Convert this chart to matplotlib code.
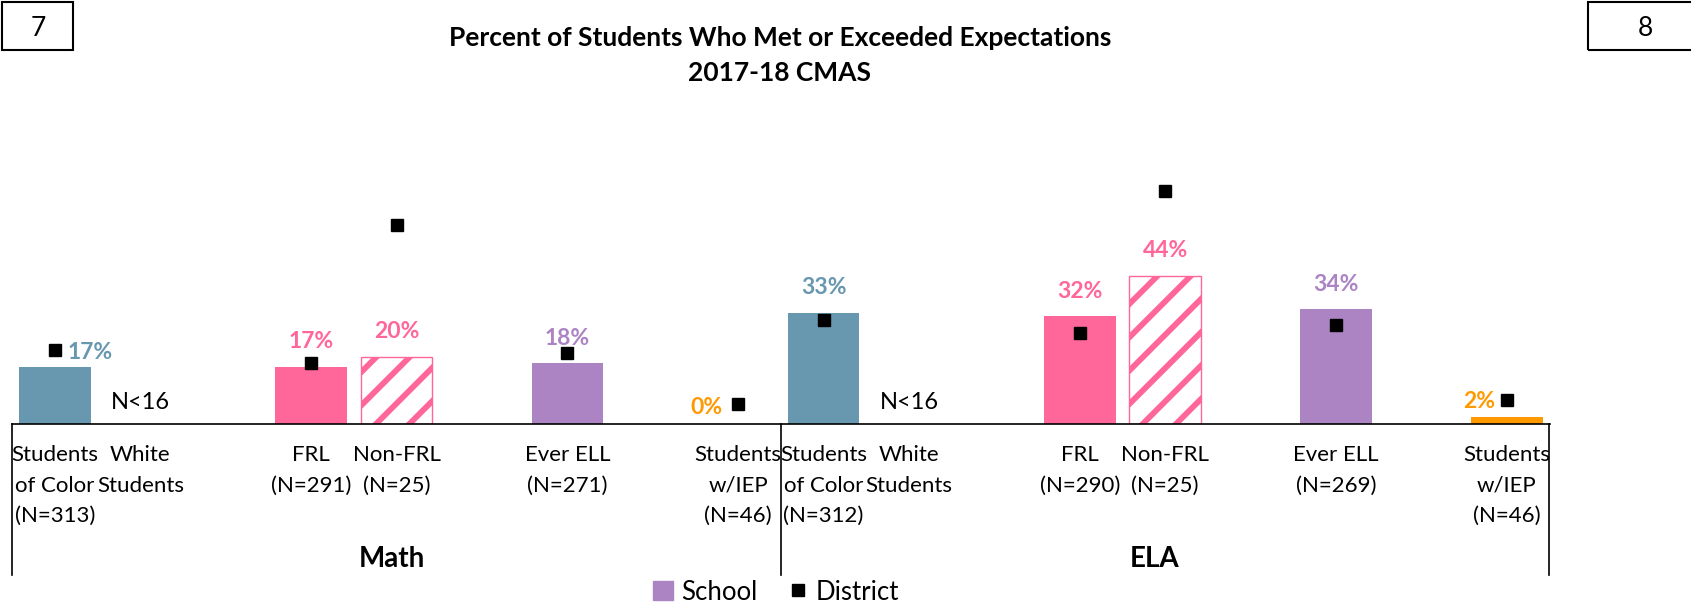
import numpy as np
import matplotlib
matplotlib.use("Agg")
import matplotlib.pyplot as plt
from matplotlib.patches import Patch, Rectangle
from matplotlib.lines import Line2D

plt.rcParams['font.family'] = ['Lato', 'DejaVu Sans']

# data
cat_math = ["Students\nof Color\n(N=313)", "White\nStudents", "", "FRL\n(N=291)", "Non-FRL\n(N=25)",
            "", "Ever ELL\n(N=271)", "", "Students\nw/IEP\n(N=46)"]
cat_ela = ["Students\nof Color\n(N=312)", "White\nStudents", "", "FRL\n(N=290)", "Non-FRL\n(N=25)",
           "", "Ever ELL\n(N=269)", "", "Students\nw/IEP\n(N=46)"]
school_math = [17, np.nan, np.nan, 17, 20, np.nan, 18, np.nan, 0]
school_ela = [33, np.nan, np.nan, 32, 44, np.nan, 34, np.nan, 2]
district_math = [22, np.nan, np.nan, 18, 59, np.nan, 21, np.nan, 6]
district_ela = [31, np.nan, np.nan, 27, 69, np.nan, 29.5, np.nan, 7]
suppressed = [1]  # White Students, N<16
groups = ["Math", "ELA"]

# styles
blue = "#6897B0"
pink = "#FF6699"
purple = "#AC84C4"
orange = "#FF9900"
slot_colors = [blue, blue, None, pink, pink, None, purple, None, orange]
slot_hatch = [None, None, None, None, "/", None, None, None, None]
plt.rcParams['hatch.linewidth'] = 4.2

# label offsets (points) for labels moved off the bar centre
label_offsets = {0: (25, 10), 8: (-23, 12)}
label_offsets_ela = {8: (-20, 11)}

W, H = 1691, 605
fig = plt.figure(figsize=(W / 100, H / 100), dpi=100)
ax = fig.add_axes([12.3 / W, 181 / H, (1549.5 - 12.3) / W, 337 / H])

x_math = np.arange(len(cat_math), dtype=float)
x_ela = len(cat_math) + np.arange(len(cat_ela), dtype=float)
right = x_ela[-1] + 0.5

def draw_group(xs, school, district, offsets):
    for i, (x, v) in enumerate(zip(xs, school)):
        if np.isnan(v):
            continue
        c = slot_colors[i]
        if slot_hatch[i]:
            ax.bar(x, v, width=0.84, facecolor="white", edgecolor=c, hatch=slot_hatch[i], linewidth=1)
        else:
            ax.bar(x, v, width=0.84, color=c)
        dx, dy = offsets.get(i, (0, 18))
        ax.annotate(f"{v:.0f}%", (x, v), xytext=(dx, dy), textcoords="offset points",
                    ha="center", va="center", color=c, fontsize=16.5, fontweight="bold")
    ax.plot(xs, district, ls="none", marker="s", color="black", markersize=8.4)
    for i in suppressed:
        ax.text(xs[i], 6.3, "N<16", ha="center", va="center", fontsize=17)

draw_group(x_math, school_math, district_math, label_offsets)
draw_group(x_ela, school_ela, district_ela, label_offsets_ela)

ax.set_xlim(-0.5, right)
ax.set_ylim(0, 100)
for s in ax.spines.values():
    s.set_visible(False)
ax.set_yticks([])
ax.set_xticks(np.concatenate([x_math, x_ela]))
ax.set_xticklabels(cat_math + cat_ela, fontsize=16, linespacing=1.67)
ax.tick_params(axis="x", length=0, pad=15)
ax.axhline(0, color="black", lw=1.2, clip_on=False)

trans = ax.get_xaxis_transform()
for xv in [-0.5, x_ela[0] - 0.5, right]:
    ax.plot([xv, xv], [0, -0.448], color="black", lw=1.2, transform=trans, clip_on=False)
ax.text(x_math.mean() - 0.06, -0.40, groups[0], transform=trans, ha="center", va="center",
        fontsize=20, fontweight="bold")
ax.text(x_ela.mean() - 0.12, -0.40, groups[1], transform=trans, ha="center", va="center",
        fontsize=20, fontweight="bold")

fig.text(780 / W, 1 - 37.7 / H, "Percent of Students Who Met or Exceeded Expectations",
         ha="center", va="center", fontsize=19, fontweight="bold")
fig.text(780 / W, 1 - 73.3 / H, "2017-18 CMAS",
         ha="center", va="center", fontsize=19, fontweight="bold")

# page boxes
fig.add_artist(Rectangle((2 / W, 1 - 50 / H), 71 / W, 48 / H, fill=False, lw=1.5,
                         transform=fig.transFigure))
fig.text(38 / W, 1 - 28 / H, "7", ha="center", va="center", fontsize=19)
fig.add_artist(Rectangle((1588 / W, 1 - 50 / H), 110 / W, 48 / H, fill=False, lw=1.5,
                         transform=fig.transFigure))
fig.text(1645 / W, 1 - 28 / H, "8", ha="center", va="center", fontsize=19)

handles = [Patch(color=purple), Line2D([], [], ls="none", marker="s", color="black", markersize=8.4)]
fig.legend(handles, ["School", "District"], loc="center", bbox_to_anchor=(776 / W, 13 / H), ncol=2,
           frameon=False, fontsize=18.5, handlelength=0.8, handleheight=0.8, handletextpad=0.3,
           columnspacing=1.2, borderaxespad=0)

fig.savefig("out.png", dpi=100)
